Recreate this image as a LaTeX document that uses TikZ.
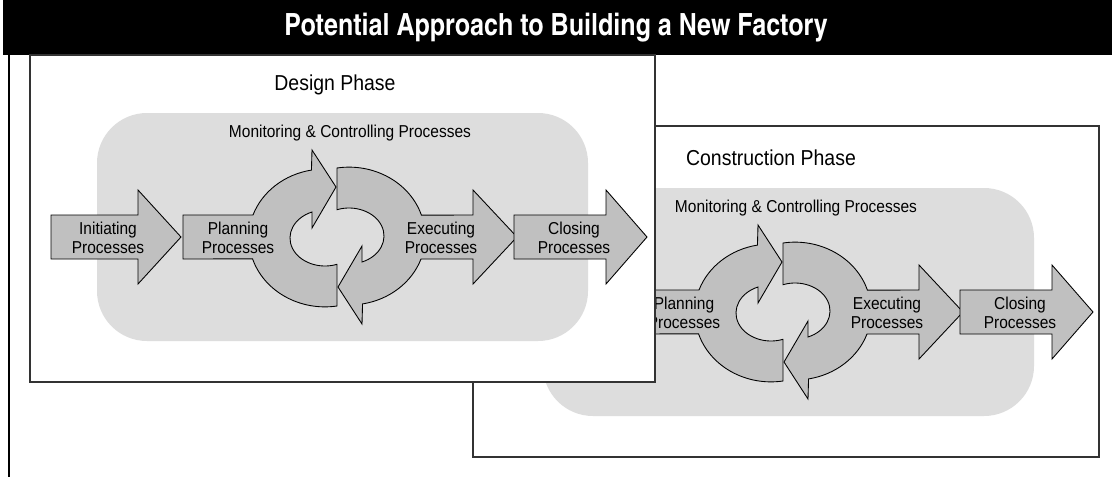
\documentclass[tikz,border=0pt]{standalone}
\usepackage{fontspec}
\setmainfont{Liberation Sans}[FakeStretch=0.9]
\newfontfamily\titlefont{texgyreheroscn-bold}[Extension=.otf]
\usetikzlibrary{positioning}

\definecolor{panel-bg}{RGB}{221,221,221}   %light grey panel
\definecolor{arrow-fill}{RGB}{192,192,192} %grey arrows

\begin{document}
\begin{tikzpicture}[x=0.02cm,y=-0.02cm]  %1 unit = 1px of the sketch, y runs downward
    \useasboundingbox (0,0) rectangle (1112,477);
    \tikzstyle{procarrow} = [fill=arrow-fill,draw=black,line width=0.5pt]
    \tikzstyle{proctext} = [font=\fontsize{9.8}{10.5}\selectfont,align=center,inner sep=0pt]
    \tikzstyle{phasetext} = [font=\fontsize{12.3}{14}\selectfont,inner sep=0pt]
    \tikzstyle{phasebox} = [fill=white,draw=black!80,line width=0.8pt]
    \tikzstyle{monitorbg} = [fill=panel-bg,rounded corners=1cm]
    %half ring with arrow head, starts where the body top meets the ring
    \tikzset{cyclering/.style={insert path={
        arc[start angle=199.5,end angle=260,x radius=76,y radius=69]
        -- (-25,-87) -- (-1,-50) -- (-25,-9) -- (-25,-25)
        arc[start angle=248.2,end angle=70,x radius=35,y radius=28] -- (0,69)
        arc[start angle=80.9,end angle=162.3,x radius=76,y radius=69]}}}

    % title bar
    \fill[black] (3,0) rectangle (1112,55);
    \node[text=white,font=\titlefont\fontsize{17.4}{20}\selectfont] (title) at (556,28) {Potential Approach to Building a New Factory};
    \draw[line width=0.7pt] (9,55) -- (9,477);

    % construction phase, drawn first so the design box covers it
    \def\xo{446};  \def\yo{75};   %shift of the phase content
    \draw[phasebox] (473,126) rectangle (1099,457);
    \node[phasetext] (cons-label) at (771,158) {Construction Phase};
    \begin{scope}[shift={(\xo,\yo)}]
      \fill[monitorbg] (97,113) rectangle (588,341);
      \node[proctext] (cons-mc) at (350,133) {Monitoring \& Controlling Processes};
      \begin{scope}[shift={(337,237)}]
        \draw[procarrow] (-154,-22) -- (-84,-22) [cyclering] -- (-154,22) -- cycle;
      \end{scope}
      \begin{scope}[shift={(337,237)},rotate=180]
        \draw[procarrow] (-180,0) -- (-136,-47) -- (-136,-22) -- (-84,-22) [cyclering] -- (-136,22) -- (-136,47) -- cycle;
      \end{scope}
      \draw[procarrow] (514,215) -- (606,215) -- (606,190) -- (647,237) -- (606,284) -- (606,259) -- (514,259) -- cycle;
      \node[proctext] (cons-plan) at (238,238) {Planning\\Processes};
      \node[proctext] (cons-exec) at (441,238) {Executing\\Processes};
      \node[proctext] (cons-close) at (574,238) {Closing\\Processes};
    \end{scope}

    % design phase
    \def\xo{0};  \def\yo{0};
    \draw[phasebox] (30,55) rectangle (655,382);
    \node[phasetext] (des-label) at (335,85) {Design Phase};
    \begin{scope}[shift={(\xo,\yo)}]
      \fill[monitorbg] (97,113) rectangle (588,341);
      \node[proctext] (des-mc) at (350,133) {Monitoring \& Controlling Processes};
      \draw[procarrow] (51,215) -- (138,215) -- (138,190) -- (181,237) -- (138,284) -- (138,259) -- (51,259) -- cycle;
      \begin{scope}[shift={(337,237)}]
        \draw[procarrow] (-154,-22) -- (-84,-22) [cyclering] -- (-154,22) -- cycle;
      \end{scope}
      \begin{scope}[shift={(337,237)},rotate=180]
        \draw[procarrow] (-180,0) -- (-136,-47) -- (-136,-22) -- (-84,-22) [cyclering] -- (-136,22) -- (-136,47) -- cycle;
      \end{scope}
      \draw[procarrow] (514,215) -- (606,215) -- (606,190) -- (647,237) -- (606,284) -- (606,259) -- (514,259) -- cycle;
      \node[proctext] (des-init) at (108,238) {Initiating\\Processes};
      \node[proctext] (des-plan) at (238,238) {Planning\\Processes};
      \node[proctext] (des-exec) at (441,238) {Executing\\Processes};
      \node[proctext] (des-close) at (574,238) {Closing\\Processes};
    \end{scope}
\end{tikzpicture}
\end{document}
